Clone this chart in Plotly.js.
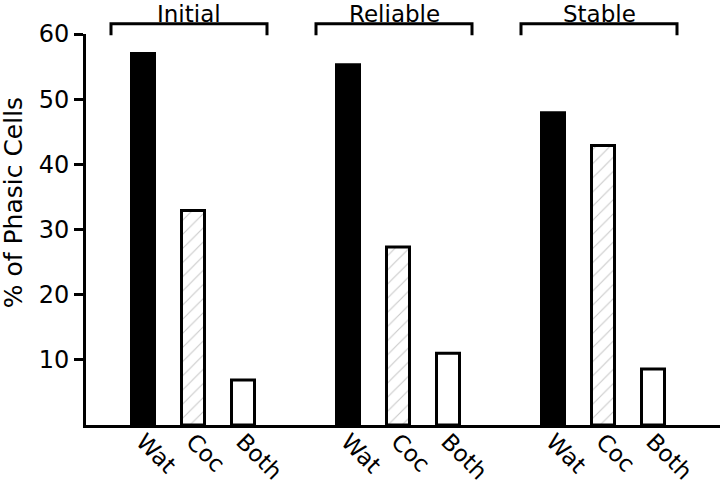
<!DOCTYPE html>
<html>
<head>
<meta charset="utf-8">
<script src="https://cdn.plot.ly/plotly-3.0.1.min.js"></script>
<style>html,body{margin:0;padding:0;background:#fff;}#chart{width:720px;height:486px;}</style>
</head>
<body>
<div id="chart"></div>
<script>
// ---- data ----
const groups = ['Initial', 'Reliable', 'Stable'];
const members = ['Wat', 'Coc', 'Both'];
const watValues = [57.0, 55.3, 47.9];
const cocValues = [32.9, 27.3, 42.9];
const bothValues = [6.9, 11.0, 8.6];
const yTickValues = [10, 20, 30, 40, 50, 60];
const yTitle = '% of Phasic Cells';

// ---- layout helpers ----
const GROUP_STEP = 4.1;
const MEMBER_STEP = 1.0;
const FONT = 'DejaVu Sans, sans-serif';
const pos = (g, i) => g * GROUP_STEP + i * MEMBER_STEP;

const seriesValues = [watValues, cocValues, bothValues];
const markers = [
  {color: '#000', line: {color: '#000', width: 3}},
  {color: '#fff', line: {color: '#000', width: 3},
   pattern: {shape: '/', fgcolor: '#c8c8c8', bgcolor: '#fff', size: 10, solidity: 0.1}},
  {color: '#fff', line: {color: '#000', width: 3}}
];

const traces = members.map((m, i) => ({
  type: 'bar',
  name: m,
  x: groups.map((g, gi) => pos(gi, i)),
  y: seriesValues[i],
  width: 0.46,
  marker: markers[i],
  hoverinfo: 'skip'
}));

const tickvals = [], ticktext = [];
groups.forEach((g, gi) => members.forEach((m, i) => { tickvals.push(pos(gi, i)); ticktext.push(m); }));

const shapes = [], annotations = [];
groups.forEach((g, gi) => {
  const x0 = pos(gi, 0) - 0.64, x1 = pos(gi, members.length - 1) + 0.48;
  const line = {color: '#000', width: 3};
  shapes.push({type: 'path', xref: 'x', yref: 'paper',
    path: `M ${x0} 0.997 L ${x0} 1.026 L ${x1} 1.026 L ${x1} 0.997`, line: line});
  annotations.push({xref: 'x', yref: 'paper', x: (x0 + x1) / 2, y: 1.052,
    xanchor: 'center', yanchor: 'middle', text: g, showarrow: false, borderpad: 0,
    font: {family: FONT, size: 23, color: '#000'}});
});
annotations.push({xref: 'paper', yref: 'paper', x: -0.113, y: 0.568,
  xanchor: 'center', yanchor: 'middle', textangle: -90, text: yTitle, showarrow: false,
  borderpad: 0, font: {family: FONT, size: 25, color: '#000'}});

const layout = {
  width: 720, height: 486,
  margin: {l: 86, r: 0, t: 34, b: 61},
  paper_bgcolor: '#fff', plot_bgcolor: '#fff',
  showlegend: false,
  barmode: 'overlay',
  font: {family: FONT, color: '#000'},
  xaxis: {
    range: [-1.14, 11.54], showgrid: false, zeroline: false,
    showline: true, linecolor: '#000', linewidth: 3,
    ticks: '', tickvals: tickvals, ticktext: ticktext, tickangle: 45,
    ticklabelstandoff: -9,
    tickfont: {family: FONT, size: 23, color: '#000'}
  },
  yaxis: {
    range: [0, 60], showgrid: false, zeroline: false,
    showline: true, linecolor: '#000', linewidth: 3,
    ticks: 'outside', ticklen: 9, tickwidth: 3, tickcolor: '#000',
    tickvals: yTickValues,
    tickfont: {family: FONT, size: 24, color: '#000'}
  },
  shapes: shapes,
  annotations: annotations
};

Plotly.newPlot('chart', traces, layout, {displayModeBar: false, staticPlot: true});
</script>
</body>
</html>
